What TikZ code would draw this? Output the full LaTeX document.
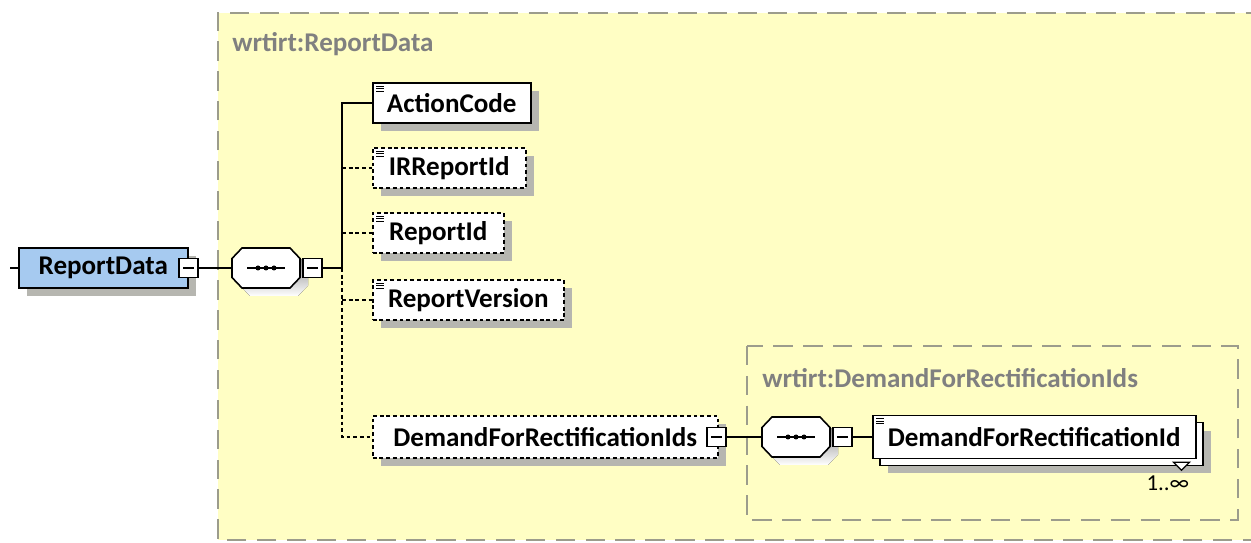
\documentclass[tikz,border=0pt]{standalone}
\usepackage{fontspec}
\setmainfont{Carlito}
\usetikzlibrary{calc,shadows}
\definecolor{grpfill}{HTML}{FFFEC4}
\definecolor{grpline}{HTML}{9C9C8C}
\definecolor{grptext}{HTML}{808080}
\definecolor{rootblue}{HTML}{A6CAF0}
\definecolor{shade}{HTML}{B6B6B0}
\tikzstyle{box} = [rectangle,draw=black,line width=0.9pt,fill=white,anchor=west,font=\bfseries\fontsize{15.4}{17}\selectfont,minimum height=0.8cm,inner xsep=0.2cm]
\tikzstyle{el} = [box,drop shadow={shadow xshift=0.16cm,shadow yshift=-0.16cm,fill=shade,opacity=1}]
\tikzstyle{opt} = [el,dash pattern=on 2.2pt off 1.6pt]
\tikzstyle{seq} = [rectangle,minimum width=1.36cm,minimum height=0.8cm,inner sep=0pt]
\tikzstyle{col} = [rectangle,draw=black,line width=0.8pt,fill=white,minimum size=0.38cm,inner sep=0pt]
\tikzstyle{grp} = [draw=grpline,line width=1.1pt,dash pattern=on 11pt off 6pt]
\tikzstyle{grplab} = [anchor=west,text=grptext,font=\bfseries\fontsize{15.4}{17}\selectfont,inner sep=0pt]
\tikzstyle{wire} = [line width=0.7pt]
\tikzstyle{optwire} = [wire,dash pattern=on 2.2pt off 1.6pt]
\newcommand{\simplemark}[1]{\foreach \d in {4,6.5,9} \draw[line width=0.6pt] ($(#1.north west)+(4,\d)$) -- +(8,0);}
% octagon of a sequence node, with its shadow and dots
\newcommand{\octpath}{(-34,-9.5) -- (-24,-20) -- (24,-20) -- (34,-9.5) -- (34,9.5) -- (24,20) -- (-24,20) -- (-34,9.5) -- cycle}
\newcommand{\seqdraw}[1]{
  \fill[shade,shift={($(#1.center)+(8,8)$)}] \octpath;
  \draw[line width=0.9pt,fill=white,shift={(#1.center)}] \octpath;
  \draw[wire] ($(#1.center)+(-19,0)$) -- ($(#1.center)+(19,0)$);
  \foreach \d in {-8,0,8} \fill ($(#1.center)+(\d,0)$) circle (0.05cm);}
\newcommand{\colbar}{\rule{0.22cm}{0.7pt}}

\begin{document}
\begin{tikzpicture}[x=0.02cm,y=-0.02cm]
  \useasboundingbox (0,0) rectangle (1251,543);
  % groups
  \fill[grpfill] (218,13) rectangle (1262,540);
  \draw[grp] (1262,540) -- (218,540) -- (218,13) -- (1262,13);
  \node[grplab] (glab) at (232,44) {wrtirt:ReportData};
  \draw[grp] (747,346) rectangle (1238,520);
  \node[grplab] (ilab) at (762,378) {wrtirt:DemandForRectificationIds};
  % root and sequence
  \node[el,fill=rootblue,minimum width=3.38cm] (rt) at (18,268) {ReportData};
  \node[col] (rtc) at (rt.east) {\colbar};
  \node[seq] (sq) at (266,268) {};
  \seqdraw{sq}
  \node[col,anchor=west] (sqc) at ($(sq.east)+(2,0)$) {\colbar};
  \coordinate (lead) at (10,268);
  \coordinate (sp) at (342,268);
  % children
  \node[el,minimum width=3.16cm] (ac) at (372,103) {ActionCode};
  \node[opt,minimum width=3.06cm] (ir) at (372,168) {IRReportId};
  \node[opt,minimum width=2.62cm] (ri) at (372,233) {ReportId};
  \node[opt,minimum width=3.82cm] (rv) at (372,300) {ReportVersion};
  \node[opt,minimum width=6.9cm,minimum height=0.84cm] (ds) at (372,437) {DemandForRectificationIds};
  \node[col] (dsc) at ($(ds.east)+(-2,0)$) {\colbar};
  \foreach \n in {ac,ir,ri,rv} \simplemark{\n}
  % inner sequence
  \node[seq] (sq2) at (796,437) {};
  \seqdraw{sq2}
  \node[col,anchor=west] (sq2c) at ($(sq2.east)+(2,0)$) {\colbar};
  \node[el,minimum width=6.46cm,minimum height=0.86cm] (idb) at (879,444) {};
  \node[box,minimum width=6.46cm,minimum height=0.86cm] (id) at (872,437) {DemandForRectificationId};
  \simplemark{id}
  \draw[wire,fill=white] ($(idb.south east)+(-30,-4)$) -- ++(8,8) -- ++(8,-8) -- cycle;
  \node[anchor=north east,inner sep=0pt,font=\fontsize{13}{15}\selectfont] (occ) at ($(idb.south east)+(-14,9)$) {1..∞};
  % connectors
  \draw[wire] (lead) -- (rt.west);
  \draw[wire] (rtc.east) -- (sq.west);
  \draw[wire] (sqc.east) -- (sp);
  \draw[wire] (sp) |- (ac.west);
  \draw[optwire] (sp) |- (ds.west);
  \foreach \n in {ir,ri,rv} \draw[optwire] (\n.west -| sp) -- (\n.west);
  \draw[wire] (dsc.east) -- (sq2.west);
  \draw[wire] (sq2c.east) -- (id.west);
\end{tikzpicture}
\end{document}
